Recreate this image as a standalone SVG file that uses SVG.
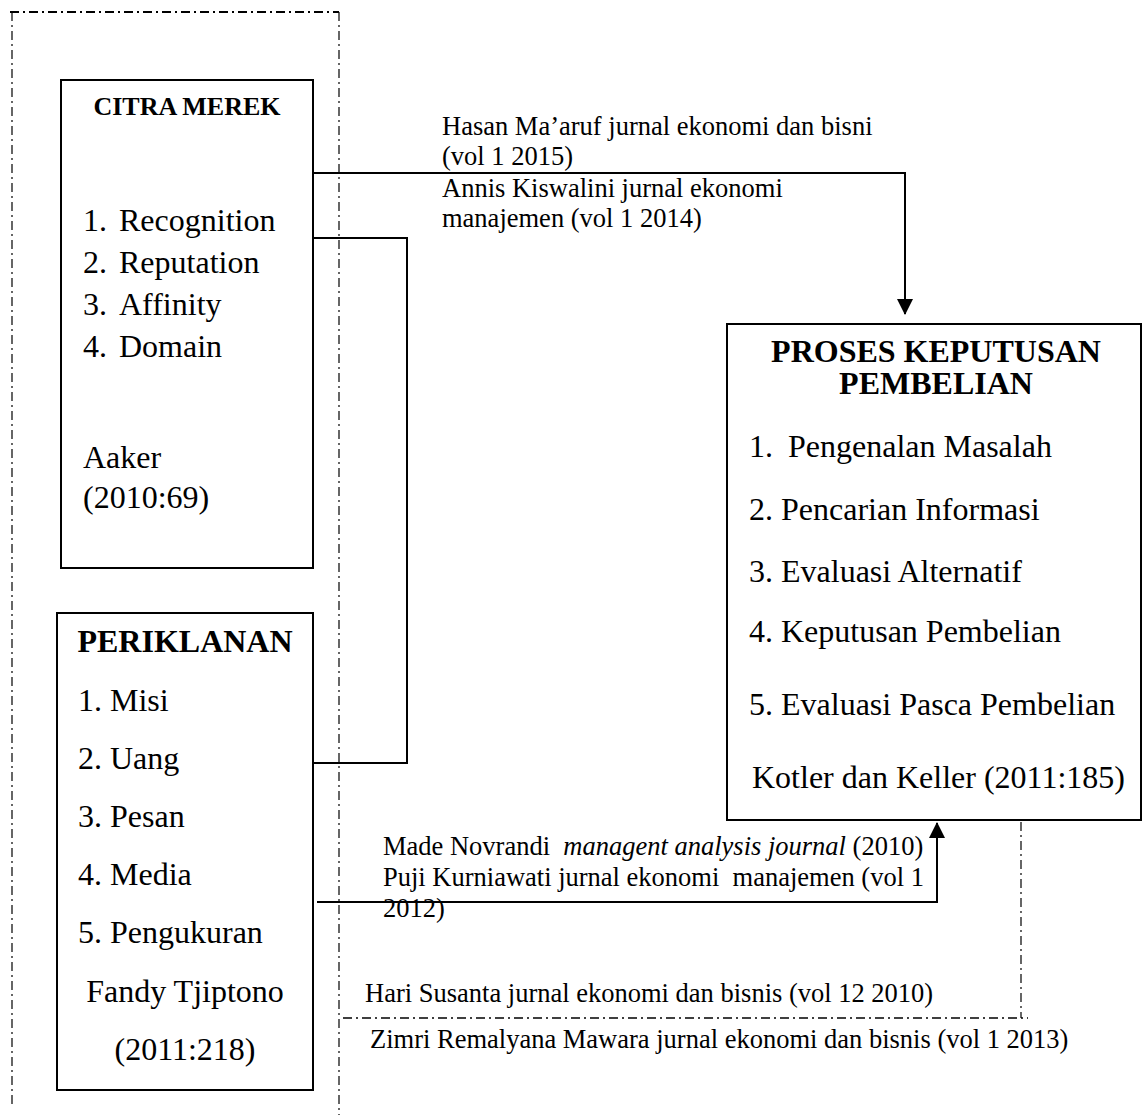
<svg xmlns="http://www.w3.org/2000/svg" width="1143" height="1115" viewBox="0 0 1143 1115">
<style>
text{font-family:"Liberation Serif","Times New Roman",serif;fill:#000}
.t{font-size:32px}
.b{font-size:32px;font-weight:bold}
.b2{font-size:26px;font-weight:bold}
.s{font-size:26.5px}
.box{fill:#fff;stroke:#000;stroke-width:2}
.con{fill:none;stroke:#000;stroke-width:2}
.dd{fill:none;stroke:#000;stroke-width:1.2;stroke-dasharray:9 4 2 4}
</style>
<defs>
<marker id="ah" markerUnits="userSpaceOnUse" markerWidth="16" markerHeight="16" viewBox="0 0 16 16" refX="15" refY="8" orient="auto">
<path d="M0,0 L16,8 L0,16 Z" fill="#000"/>
</marker>
</defs>
<g id="frame">
<path class="dd" d="M10,12 H339" style="stroke-width:2"/>
<path class="dd" d="M12,12 V1108"/>
<path class="dd" d="M339,12 V1115"/>
<path class="dd" d="M1021,822 V1018"/>
<path class="dd" d="M343,1018 H1028" style="stroke-width:1.6"/>
</g>
<g id="connectors">
<path class="con" d="M310,173 H905 V314" marker-end="url(#ah)"/>
<path class="con" d="M313,238 H407 V763 H313"/>
<path class="con" d="M317,902 H937 V823" marker-end="url(#ah)"/>
</g>
<g id="citra-merek">
<rect class="box" x="61" y="80" width="252" height="488"/>
<text class="b2" x="187" y="115" text-anchor="middle">CITRA MEREK</text>
<text class="t" x="83" y="231">1.</text><text class="t" x="119" y="231">Recognition</text>
<text class="t" x="83" y="273">2.</text><text class="t" x="119" y="273">Reputation</text>
<text class="t" x="83" y="315">3.</text><text class="t" x="119" y="315">Affinity</text>
<text class="t" x="83" y="357">4.</text><text class="t" x="119" y="357">Domain</text>
<text class="t" x="83" y="468">Aaker</text>
<text class="t" x="83" y="508">(2010:69)</text>
</g>
<g id="periklanan">
<rect class="box" x="57" y="613" width="256" height="477"/>
<text class="b" x="185" y="652" text-anchor="middle">PERIKLANAN</text>
<text class="t" x="78" y="711">1. Misi</text>
<text class="t" x="78" y="769">2. Uang</text>
<text class="t" x="78" y="827">3. Pesan</text>
<text class="t" x="78" y="885">4. Media</text>
<text class="t" x="78" y="943">5. Pengukuran</text>
<text class="t" x="185" y="1002" text-anchor="middle">Fandy Tjiptono</text>
<text class="t" x="185" y="1060" text-anchor="middle">(2011:218)</text>
</g>
<g id="proses-keputusan">
<rect class="box" x="727" y="324" width="414" height="496"/>
<text class="b" x="936" y="362" text-anchor="middle">PROSES KEPUTUSAN</text>
<text class="b" x="936" y="394" text-anchor="middle">PEMBELIAN</text>
<text class="t" x="749" y="457">1.</text><text class="t" x="788" y="457">Pengenalan Masalah</text>
<text class="t" x="749" y="520">2. Pencarian Informasi</text>
<text class="t" x="749" y="582">3. Evaluasi Alternatif</text>
<text class="t" x="749" y="642">4. Keputusan Pembelian</text>
<text class="t" x="749" y="715">5. Evaluasi Pasca Pembelian</text>
<text class="t" x="752" y="788">Kotler dan Keller (2011:185)</text>
</g>
<g id="labels">
<text class="s" x="442" y="135">Hasan Ma’aruf jurnal ekonomi dan bisni</text>
<text class="s" x="442" y="165">(vol 1 2015)</text>
<text class="s" x="442" y="197">Annis Kiswalini jurnal ekonomi</text>
<text class="s" x="442" y="227">manajemen (vol 1 2014)</text>
<text class="s" x="383" y="855" xml:space="preserve">Made Novrandi  <tspan font-style="italic">managent analysis journal</tspan> (2010)</text>
<text class="s" x="383" y="886" xml:space="preserve">Puji Kurniawati jurnal ekonomi  manajemen (vol 1</text>
<text class="s" x="383" y="917">2012)</text>
<text class="s" x="365" y="1002">Hari Susanta jurnal ekonomi dan bisnis (vol 12 2010)</text>
<text class="s" x="370" y="1048">Zimri Remalyana Mawara jurnal ekonomi dan bisnis (vol 1 2013)</text>
</g>
</svg>
